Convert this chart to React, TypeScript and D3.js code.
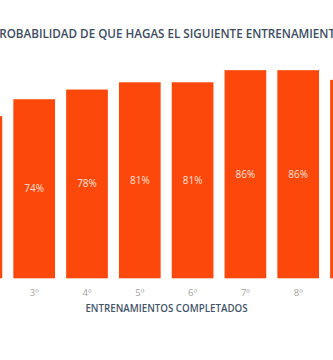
import React from "react";
import * as d3 from "d3";

const categories = ["2º", "3º", "4º", "5º", "6º", "7º", "8º", "9º"];
const values = [67, 74, 78, 81, 81, 86, 86, 82];
const titleText = "PROBABILIDAD DE QUE HAGAS EL SIGUIENTE ENTRENAMIENTO";
const axisTitle = "ENTRENAMIENTOS COMPLETADOS";

const W = 333;
const H = 360;

export default function App() {
  const x = d3
    .scaleBand<string>()
    .domain(categories)
    .range([-45, 377.4])
    .paddingInner(0.21)
    .paddingOuter(0.105);
  const y = d3.scaleLinear().domain([0, 100]).range([278.3, 36.3]);
  const font = "'Open Sans', 'Noto Sans', sans-serif";

  return (
    <svg
      width={W}
      height={H}
      style={{ position: "absolute", left: 0, top: 0, background: "#fff" }}
    >
      <text
        x={-7.9}
        y={38.3}
        fontFamily={font}
        fontSize={11.65}
        fontWeight={600}
        fill="#3d4b5f"
      >
        {titleText}
      </text>
      {categories.map((c, i) => {
        const bx = x(c) as number;
        const top = y(values[i]);
        const bottom = y(0);
        return (
          <g key={c}>
            <rect
              x={bx}
              y={top}
              width={x.bandwidth()}
              height={bottom - top}
              fill="#fd480c"
            />
            <text
              x={bx + x.bandwidth() / 2}
              y={(top + bottom) / 2}
              dy="0.35em"
              textAnchor="middle"
              fontFamily={font}
              fontSize={10}
              fill="#fbe0d6"
            >
              {values[i]}%
            </text>
            <text
              x={bx + x.bandwidth() / 2}
              y={293}
              dy="0.35em"
              textAnchor="middle"
              fontFamily={font}
              fontSize={9.5}
              fill="#a3a3a3"
            >
              {c}
            </text>
          </g>
        );
      })}
      <text
        x={166.5}
        y={308.5}
        dy="0.35em"
        textAnchor="middle"
        fontFamily={font}
        fontSize={9.75}
        fontWeight={600}
        fill="#44546a"
      >
        {axisTitle}
      </text>
    </svg>
  );
}
